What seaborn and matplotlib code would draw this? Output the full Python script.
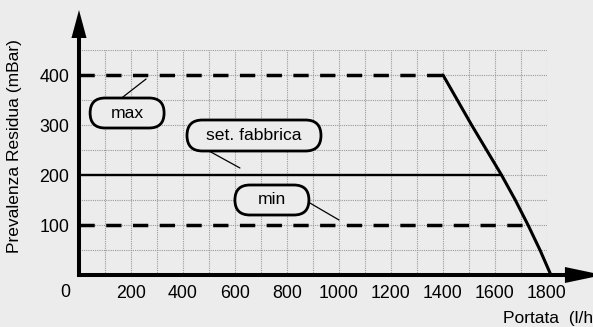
import numpy as np
import pandas as pd
import matplotlib
matplotlib.use("Agg")
import matplotlib.pyplot as plt
import matplotlib.transforms as mtransforms
from matplotlib.patches import FancyBboxPatch
import seaborn as sns

# ---- data ----
max_x = [0, 1400]
max_y = [400, 400]
fab_x = [0, 1625]
fab_y = [200, 200]
min_x = [0, 1727]
min_y = [100, 100]
curve_x = [1400, 1510, 1625, 1678, 1727, 1773, 1815]
curve_y = [400, 300, 200, 150, 100, 50, 0]

x_tick_values = [200, 400, 600, 800, 1000, 1200, 1400, 1600, 1800]
y_tick_values = [100, 200, 300, 400]
x_grid = list(range(0, 1801, 100))
y_grid = list(range(0, 451, 50))

label_texts = ["max", "set. fabbrica", "min"]
label_pos = [(185, 324), (673, 279), (742, 150)]
leader_start = [(169, 356), (500, 248), (888, 144)]
leader_end = [(258, 392), (619, 214), (1000, 110)]
label_size_px = [(74, 30), (134, 31), (74, 30)]

x_label = "Portata  (l/h)"
y_label = "Prevalenza Residua (mBar)"

BG = "#ececec"

sns.set_theme(style="white")
plt.rcParams["font.family"] = ["Liberation Sans", "DejaVu Sans"]

W, H = 593, 327
DPI = 100
fig = plt.figure(figsize=(W / DPI, H / DPI), dpi=DPI, facecolor=BG)
ax = fig.add_axes([79 / W, 52 / H, 468 / W, 225 / H])
ax.set_facecolor(BG)
ax.set_xlim(0, 1800)
ax.set_ylim(0, 450)
for s in ax.spines.values():
    s.set_visible(False)

# grid
ax.set_xticks(x_grid)
ax.set_xticklabels([str(v) if v in x_tick_values else "" for v in x_grid])
ax.set_yticks(y_grid)
ax.set_yticklabels([str(v) if v in y_tick_values else "" for v in y_grid])
ax.tick_params(axis="both", length=0, labelsize=12.8, colors="black")
ax.tick_params(axis="x", pad=7.5)
ax.tick_params(axis="y", pad=7.0)
ax.grid(True, color="#9a9a9a", linestyle=(0, (1, 1)), linewidth=0.8)
ax.set_axisbelow(True)

# lines
dash = (0, (4.4, 3.3))
sns.lineplot(x=max_x, y=max_y, ax=ax, color="black", linewidth=2.5,
             linestyle=dash, estimator=None, sort=False)
sns.lineplot(x=min_x, y=min_y, ax=ax, color="black", linewidth=2.5,
             linestyle=dash, estimator=None, sort=False)
sns.lineplot(x=fab_x, y=fab_y, ax=ax, color="black", linewidth=1.7,
             estimator=None, sort=False)
sns.lineplot(x=curve_x, y=curve_y, ax=ax, color="black", linewidth=2.2,
             estimator=None, sort=False, clip_on=False)

# leader lines
for (x0, y0), (x1, y1) in zip(leader_start, leader_end):
    ax.plot([x0, x1], [y0, y1], color="black", linewidth=0.9)

# pill labels
px2pt = 72.0 / DPI
for txt, (cx, cy), (wpx, hpx) in zip(label_texts, label_pos, label_size_px):
    wpt, hpt = wpx * px2pt, hpx * px2pt
    tr = mtransforms.Affine2D().scale(DPI / 72.0) + \
        mtransforms.ScaledTranslation(cx, cy, ax.transData)
    p = FancyBboxPatch((-wpt / 2, -hpt / 2), wpt, hpt,
                       boxstyle=f"round,pad=0,rounding_size={hpt/2}",
                       facecolor=BG, edgecolor="black", linewidth=2.0,
                       transform=tr, clip_on=False, zorder=5)
    ax.add_artist(p)
    ax.text(cx, cy, txt, ha="center", va="center", fontsize=12.6,
            color="black", zorder=6)

# axes with arrows
ax.plot([0, 0], [0, 474], color="black", linewidth=2.9,
        solid_capstyle="projecting", clip_on=False, zorder=7)
ax.plot([0, 1869], [0, 0], color="black", linewidth=2.9,
        solid_capstyle="projecting", clip_on=False, zorder=7)
ax.fill([-29, 29, 0], [474, 474, 530], color="black", clip_on=False,
        zorder=7, linewidth=0)
ax.fill([1869, 1869, 2015], [-16, 16, 0], color="black", clip_on=False,
        zorder=7, linewidth=0)

# origin label and axis titles
fig.text(65.7 / W, 1 - 292.5 / H, "0", ha="center", va="center",
         fontsize=12.8, color="black")
fig.text(15 / W, 1 - 146 / H, y_label, rotation=90, ha="center",
         va="center", fontsize=12.5, color="black")
fig.text(503 / W, 1 - 318 / H, x_label, ha="left", va="center",
         fontsize=12.5, color="black")

fig.savefig("out.png", dpi=DPI, facecolor=BG)
